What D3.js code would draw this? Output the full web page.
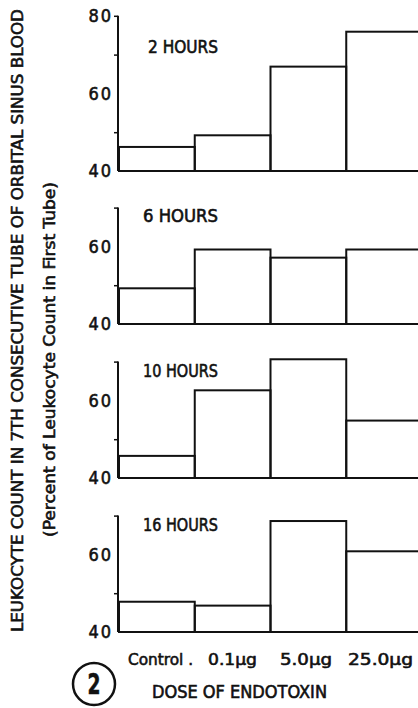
<!DOCTYPE html>
<html>
<head>
<meta charset="utf-8">
<script src="https://cdn.jsdelivr.net/npm/d3@7"></script>
<style>
  body { margin: 0; background: #fff; }
  text { font-family: "DejaVu Sans Condensed", "Liberation Sans", sans-serif; fill: #111; stroke: #111; stroke-width: 0.55px; }
</style>
</head>
<body>
<div id="chart"></div>
<script>
const doses = ["Control", "0.1", "5.0", "25.0"];
const doseLabels = ["Control .", "0.1\u03bcg", "5.0\u03bcg", "25.0\u03bcg"];
const panelNames = ["2 HOURS", "6 HOURS", "10 HOURS", "16 HOURS"];
const panelMax = [80, 70, 70, 70];

// percent values, one row per panel
const hours2 = [46.2, 49.2, 66.9, 75.9];
const hours6 = [49.2, 59.2, 57.1, 59.2];
const hours10 = [45.7, 62.6, 70.6, 54.8];
const hours16 = [47.8, 46.8, 68.6, 60.8];
const series = [hours2, hours6, hours10, hours16];

const W = 418, H = 708;
const axisX = 118;
const baselines = [171, 324, 478, 632];
const pxPerUnit = 3.88;
const labelY = [53, 222, 377, 531];

const svg = d3.select("#chart").append("svg")
    .attr("width", W)
    .attr("height", H);

const x = d3.scaleBand()
    .domain(doses)
    .range([119, 422])
    .padding(0);

series.forEach(function(vals, i) {
    const base = baselines[i];
    const y = d3.scaleLinear()
        .domain([40, panelMax[i]])
        .range([base, base - (panelMax[i] - 40) * pxPerUnit]);

    const g = svg.append("g");

    // bars (open rectangles)
    g.selectAll("rect")
        .data(vals)
        .join("rect")
        .attr("x", (d, j) => x(doses[j]))
        .attr("y", d => y(d))
        .attr("width", x.bandwidth())
        .attr("height", d => base - y(d))
        .attr("fill", "none")
        .attr("stroke", "#111")
        .attr("stroke-width", 2);

    // left axis
    const ticks = d3.range(40, panelMax[i] + 1, 10);
    const ax = g.append("g")
        .attr("transform", "translate(" + axisX + ",0)")
        .call(d3.axisLeft(y)
            .tickValues(ticks)
            .tickSize(4)
            .tickPadding(3)
            .tickFormat(d => d % 20 === 0 ? d : ""));
    ax.select(".domain")
        .attr("d", "M0," + y(panelMax[i]) + "V" + base)
        .attr("stroke", "#111")
        .attr("stroke-width", 2);
    ax.selectAll(".tick line")
        .attr("stroke", "#111")
        .attr("stroke-width", 1.5)
        .filter(d => d % 20 === 0 && d !== panelMax[i])
        .remove();
    ax.selectAll(".tick text")
        .attr("font-family", "DejaVu Sans Condensed, Liberation Sans, sans-serif")
        .attr("font-size", 18)
        .attr("letter-spacing", 2)
        .attr("fill", "#111")
        .attr("stroke", "#111")
        .attr("stroke-width", 0.6)
        .attr("x", -5);

    // baseline
    g.append("line")
        .attr("x1", axisX)
        .attr("x2", W)
        .attr("y1", base)
        .attr("y2", base)
        .attr("stroke", "#111")
        .attr("stroke-width", 2);

    g.append("text")
        .attr("x", i === 0 ? 148 : 143)
        .attr("y", labelY[i])
        .attr("font-size", 17)
        .attr("textLength", i === 0 ? 70 : 75)
        .attr("lengthAdjust", "spacingAndGlyphs")
        .text(panelNames[i]);
});

// dose labels under last panel
const doseX = [128, 208, 280, 348];
const doseW = [65, 49, 52, 65];
svg.append("g").selectAll("text")
    .data(doseLabels)
    .join("text")
    .attr("x", (d, j) => doseX[j])
    .attr("y", 665)
    .attr("font-size", 16)
    .attr("textLength", (d, j) => doseW[j])
    .attr("lengthAdjust", "spacingAndGlyphs")
    .text(d => d);

svg.append("text")
    .attr("x", 152)
    .attr("y", 698)
    .attr("font-size", 17)
    .attr("textLength", 175)
    .attr("lengthAdjust", "spacingAndGlyphs")
    .text("DOSE OF ENDOTOXIN");

// y titles
svg.append("text")
    .attr("transform", "translate(23,632) rotate(-90)")
    .attr("font-size", 15)
    .attr("textLength", 623)
    .attr("lengthAdjust", "spacingAndGlyphs")
    .text("LEUKOCYTE COUNT IN 7TH CONSECUTIVE TUBE OF ORBITAL SINUS BLOOD");

svg.append("text")
    .attr("transform", "translate(55,537) rotate(-90)")
    .attr("font-size", 15)
    .attr("textLength", 355)
    .attr("lengthAdjust", "spacingAndGlyphs")
    .text("(Percent of Leukocyte Count in First Tube)");

// figure number
svg.append("circle")
    .attr("cx", 94)
    .attr("cy", 684)
    .attr("r", 21)
    .attr("fill", "none")
    .attr("stroke", "#111")
    .attr("stroke-width", 2.5);
svg.append("text")
    .attr("x", 94)
    .attr("y", 694)
    .attr("text-anchor", "middle")
    .attr("font-size", 28)
    .attr("font-weight", "bold")
    .attr("textLength", 13)
    .attr("lengthAdjust", "spacingAndGlyphs")
    .text("2");
</script>
</body>
</html>
